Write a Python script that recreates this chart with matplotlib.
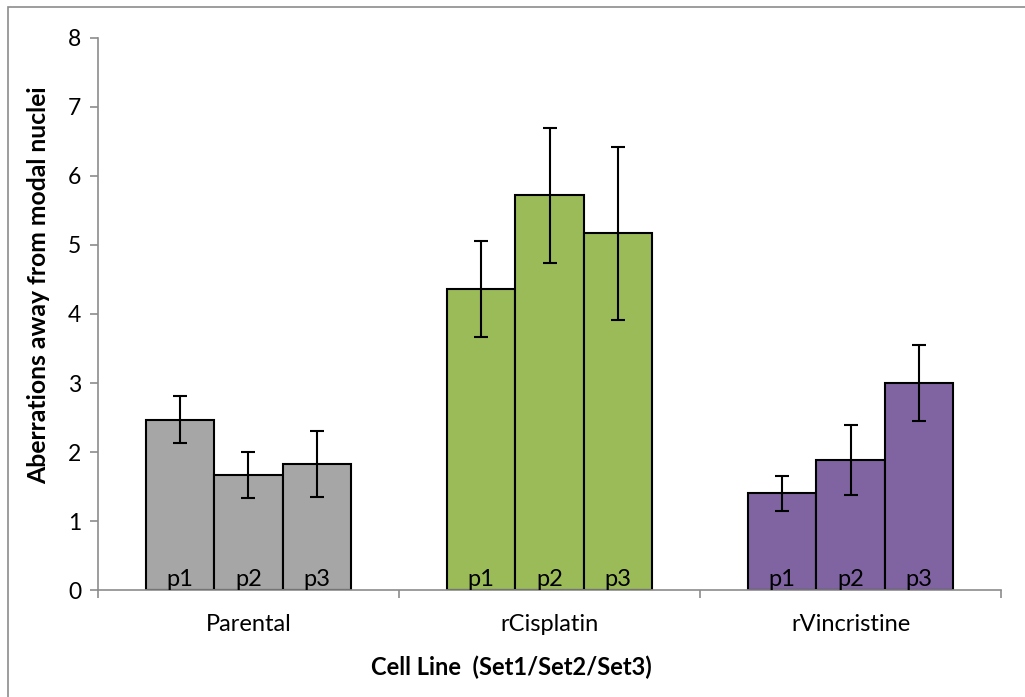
import numpy as np
import matplotlib.pyplot as plt
from matplotlib.patches import Rectangle

plt.rcParams['font.family'] = ['Lato', 'DejaVu Sans']

cell_lines = ['Parental', 'rCisplatin', 'rVincristine']
passages = ['p1', 'p2', 'p3']
colors = ['#A6A6A6', '#9BBB59', '#8064A2']

# means per cell line (p1, p2, p3)
means = [
    [2.47, 1.67, 1.83],
    [4.36, 5.72, 5.17],
    [1.40, 1.88, 3.00],
]
# error bar half-widths
errs = [
    [0.34, 0.33, 0.48],
    [0.70, 0.98, 1.25],
    [0.25, 0.51, 0.55],
]

fig = plt.figure(figsize=(10.25, 6.97), dpi=100)
ax = fig.add_axes([0.0956, 0.1535, 0.881, 0.7920])

# outer frame like the spreadsheet chart area
fig.patches.append(Rectangle((8 / 1025, -0.1), 1.2, (697 - 7) / 697 + 0.1,
                             transform=fig.transFigure, fill=False,
                             edgecolor='#8c8c8c', lw=1.2))

w = 0.227
for i, name in enumerate(cell_lines):
    x = i + (np.arange(3) - 1) * w
    ax.bar(x, means[i], width=w, color=colors[i], edgecolor='black', lw=1.5,
           yerr=errs[i], error_kw=dict(ecolor='black', elinewidth=1.5,
                                      capsize=5, capthick=1.5), zorder=2)
    for xx, p in zip(x, passages):
        ax.text(xx, 0.0, p, ha='center', va='bottom', fontsize=17, zorder=3)

ax.set_xlim(-0.5, 2.5)
ax.set_ylim(0, 8)
ax.set_yticks(range(0, 9))
ax.set_xticks(range(3))
ax.set_xticklabels(cell_lines)
ax.set_xticks([-0.5, 0.5, 1.5, 2.5], minor=True)
ax.tick_params(axis='x', which='major', length=0, pad=17, labelsize=17)
ax.tick_params(axis='x', which='minor', length=6, color='#8c8c8c', width=1.2)
ax.tick_params(axis='y', length=6, color='#8c8c8c', width=1.2, labelsize=16.5, pad=6)

for s in ['top', 'right']:
    ax.spines[s].set_visible(False)
for s in ['left', 'bottom']:
    ax.spines[s].set_color('#8c8c8c')
    ax.spines[s].set_linewidth(1.2)

ax.set_ylabel('Aberrations away from modal nuclei', fontsize=17.8, fontweight='bold', labelpad=11)
ax.yaxis.set_label_coords(-0.053, 0.553)
ax.set_xlabel('Cell Line  (Set1/Set2/Set3)', fontsize=17, fontweight='bold', labelpad=15)
ax.xaxis.set_label_coords(0.458, -0.118)

fig.savefig('out.png', dpi=100)
